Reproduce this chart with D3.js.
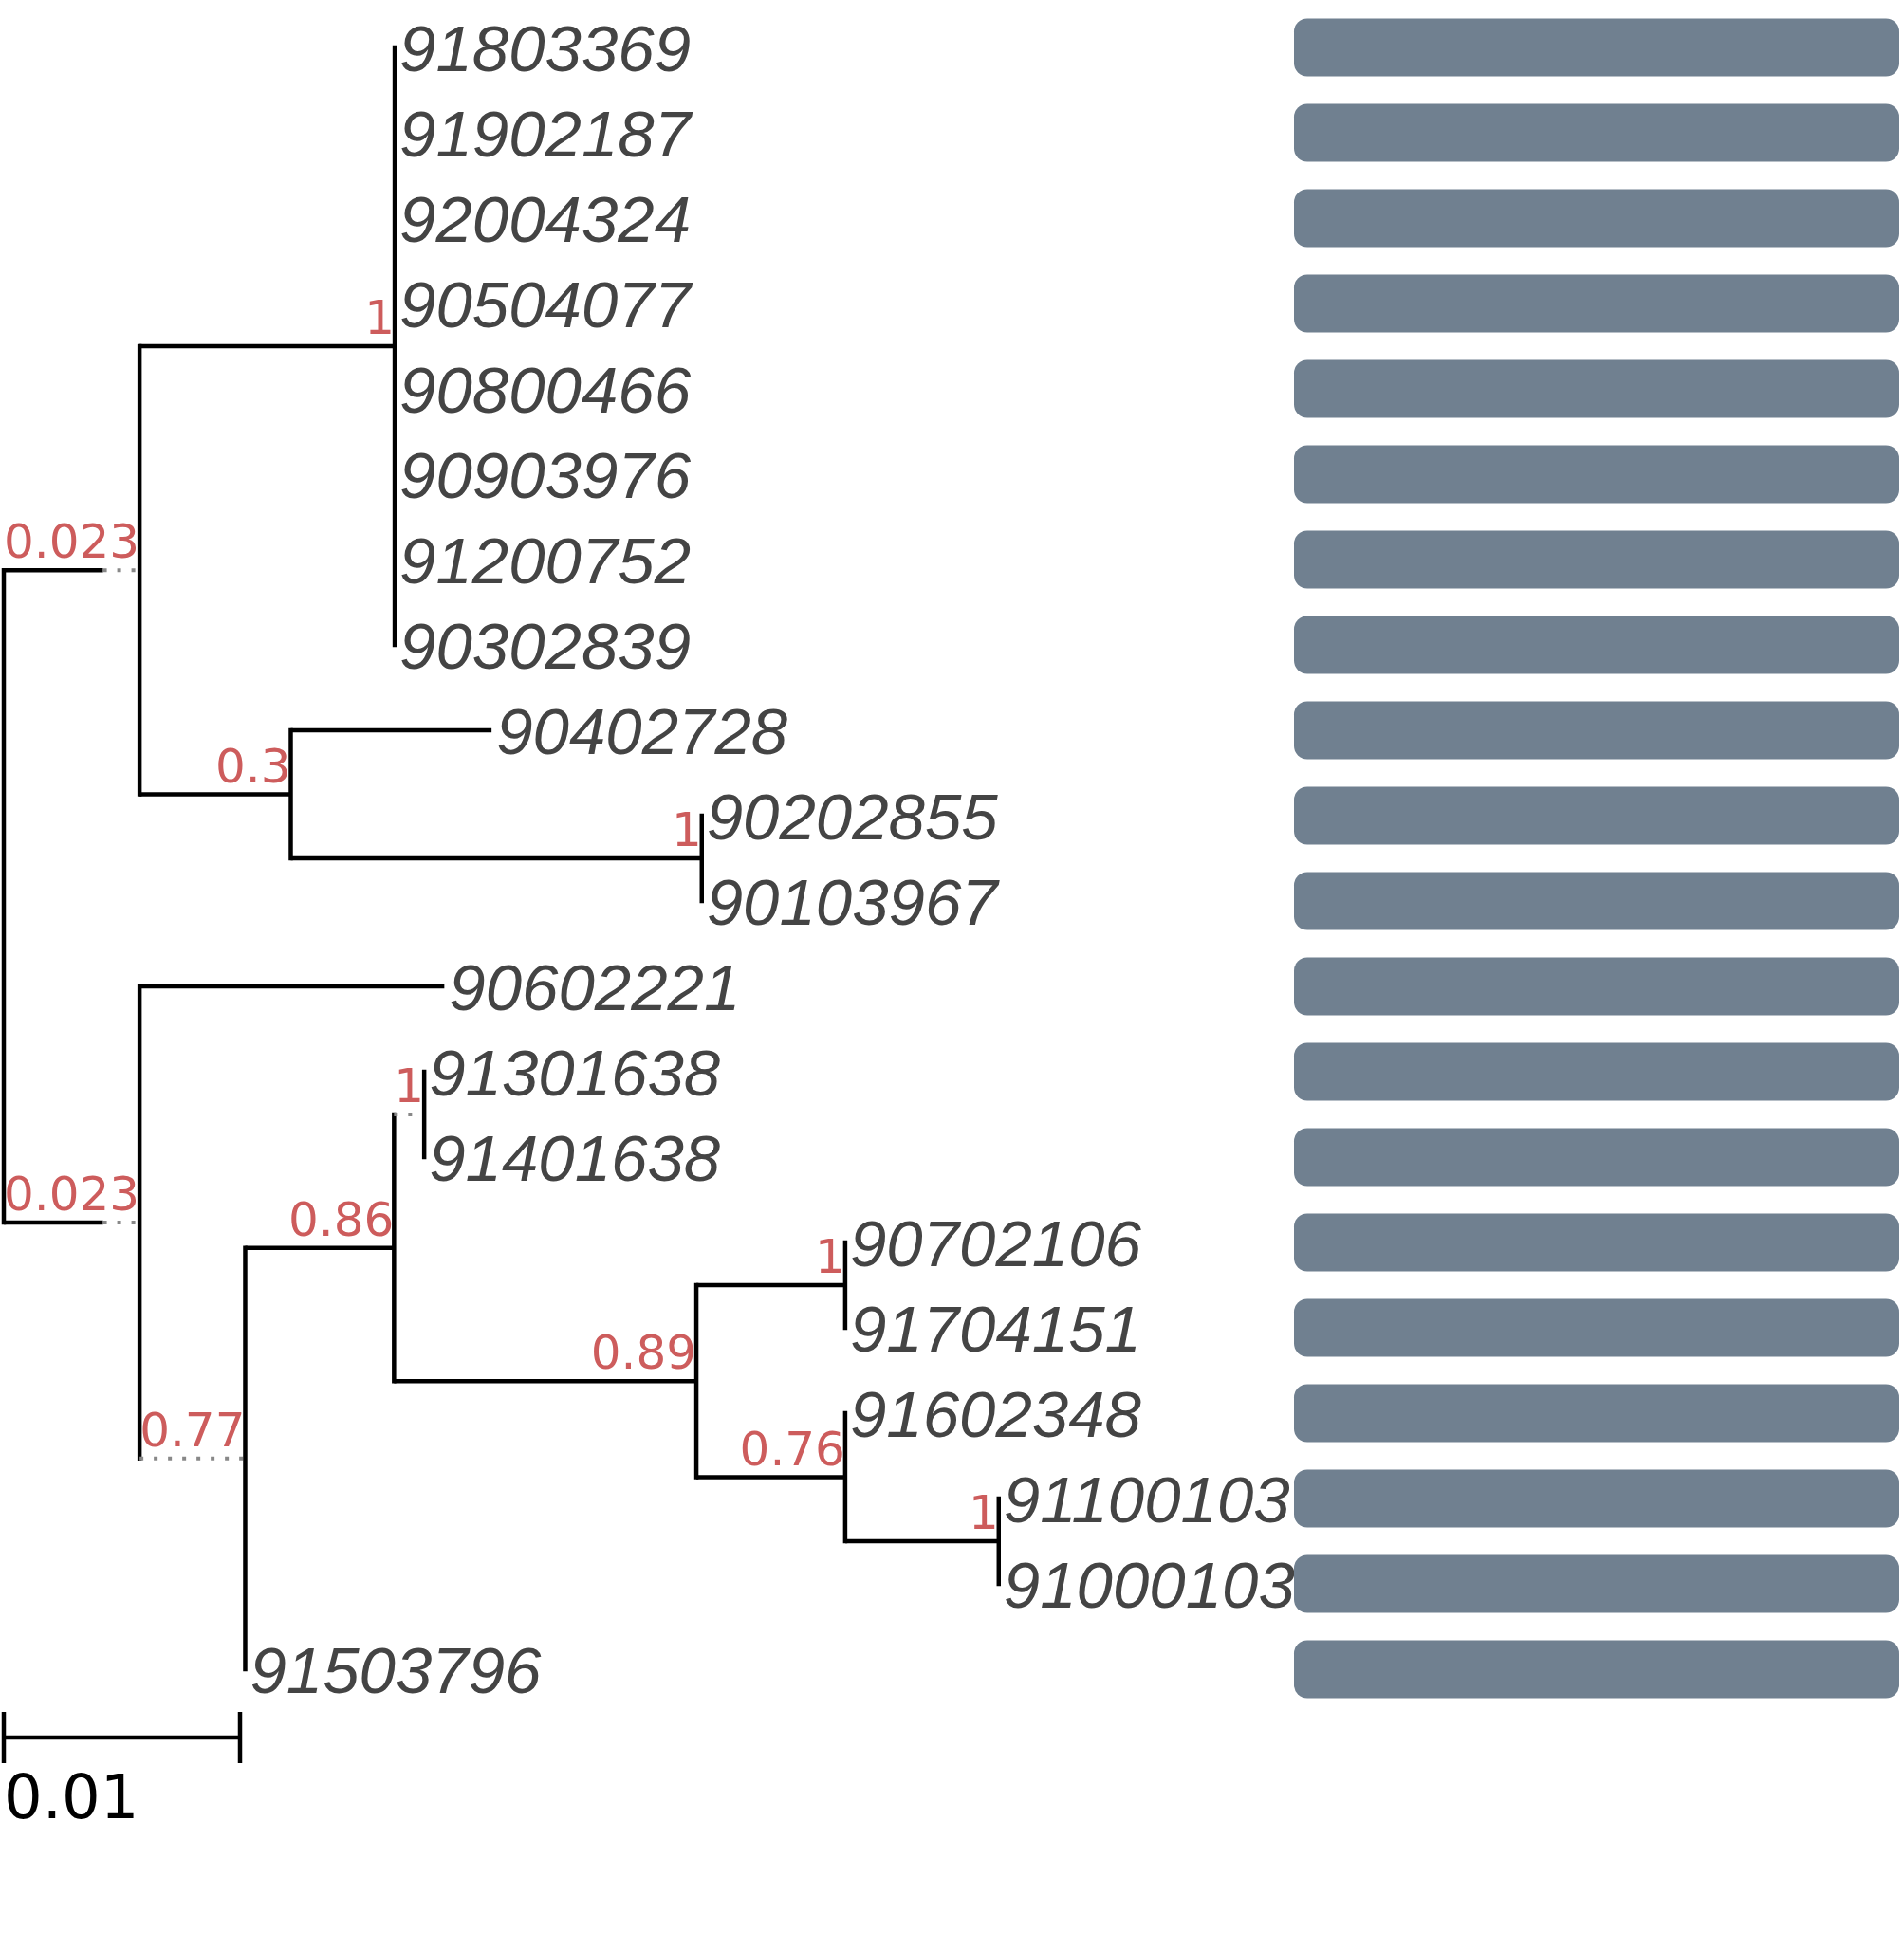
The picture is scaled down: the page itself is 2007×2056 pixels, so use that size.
<!DOCTYPE html>
<html>
<head>
<meta charset="utf-8">
<script src="https://cdn.jsdelivr.net/npm/d3@7"></script>
<style>
  body { margin: 0; background: #fff; }
  svg { display: block; }
</style>
</head>
<body>
<svg id="chart"></svg>
<script>
// tree as newick: internal labels are support values, lengths in substitutions/site
const newick =
  "(((91803369:0,91902187:0,92004324:0,90504077:0,90800466:0,90903976:0,91200752:0,90302839:0)1:0.0108," +
  "(90402728:0.0085,(90202855:0,90103967:0)1:0.0174)0.3:0.0064)0.023:0.0042," +
  "(90602221:0.0129,(((91301638:0,91401638:0)1:0," +
  "((90702106:0,91704151:0)1:0.0063,(91602348:0,(91100103:0,91000103:0)1:0.0065)0.76:0.0063)0.89:0.0128)0.86:0.0063," +
  "91503796:0)0.77:0)0.023:0.0042);";

// one rectangle per leaf, all full length
const barValues = [1, 1, 1, 1, 1, 1, 1, 1, 1, 1, 1, 1, 1, 1, 1, 1, 1, 1, 1, 1];

const scaleBarValue = 0.01;
const scaleBarLabel = "0.01";

const W = 2007, H = 2056;
const originX = 4;
const supportFont = 50;
const leafFont = 69;
const lineW = 4.5;

const svg = d3.select("#chart").attr("width", W).attr("height", H);
svg.append("rect").attr("width", W).attr("height", H).attr("fill", "#fff");

function parseNewick(s) {
  let i = 0;
  function node() {
    const n = {children: []};
    if (s[i] === "(") {
      i++;
      do { n.children.push(node()); } while (s[i++] === ",");
    }
    let label = "";
    while (i < s.length && !",():;".includes(s[i])) label += s[i++];
    n.length = 0;
    if (s[i] === ":") {
      i++;
      let num = "";
      while (i < s.length && !",();".includes(s[i])) num += s[i++];
      n.length = +num;
    }
    if (n.children.length) n.support = label; else n.name = label;
    return n;
  }
  return node();
}

const root = d3.hierarchy(parseNewick(newick), d => d.children.length ? d.children : null);
const leaves = root.leaves();

const x = d3.scaleLinear().domain([0, scaleBarValue]).range([0, 249]);
const y = d3.scaleLinear().domain([0, leaves.length - 1]).range([50, 1760]);
const barX = d3.scaleLinear().domain([0, 1]).range([1364, 2002]);

const gLines = svg.append("g");
const gText = svg.append("g");

// support labels first, so their width can stretch short branches
root.descendants().forEach(d => {
  if (d.children && d.parent) {
    d.label = gText.append("text")
      .attr("font-family", "DejaVu Sans")
      .attr("font-size", supportFont)
      .attr("fill", "#cd5c5c")
      .attr("text-anchor", "end")
      .text(d.data.support);
    d.labelWidth = d.label.node().getComputedTextLength();
  } else {
    d.labelWidth = 0;
  }
});

leaves.forEach((d, i) => { d.py = y(i); });
root.eachAfter(d => {
  if (d.children) d.py = (d.children[0].py + d.children[d.children.length - 1].py) / 2;
});
root.eachBefore(d => {
  if (!d.parent) { d.px = originX; d.solid = 0; return; }
  d.solid = x(d.data.length);
  d.px = d.parent.px + Math.max(d.solid, d.labelWidth);
});

root.descendants().forEach(d => {
  if (d.parent) {
    const x0 = d.parent.px, x1 = x0 + d.solid;
    if (d.solid > 0) {
      gLines.append("line")
        .attr("x1", x0).attr("x2", x1).attr("y1", d.py).attr("y2", d.py)
        .attr("stroke", "#000").attr("stroke-width", lineW);
    }
    if (d.px - x1 > 0.5) {
      gLines.append("line")
        .attr("x1", x1).attr("x2", d.px).attr("y1", d.py).attr("y2", d.py)
        .attr("stroke", "#888").attr("stroke-width", 4)
        .attr("stroke-dasharray", "4 11");
    }
  }
  if (d.children) {
    gLines.append("line")
      .attr("x1", d.px).attr("x2", d.px)
      .attr("y1", d.children[0].py).attr("y2", d.children[d.children.length - 1].py)
      .attr("stroke", "#000").attr("stroke-width", lineW)
      .attr("stroke-linecap", "square");
  }
  if (d.label) {
    d.label.attr("x", d.px).attr("y", d.py - 13);
  }
});

gText.selectAll("text.leaf")
  .data(leaves)
  .join("text")
  .attr("class", "leaf")
  .attr("x", d => d.px + 5)
  .attr("y", d => d.py + 25)
  .attr("font-family", "Liberation Sans, Arial, sans-serif")
  .attr("font-style", "italic")
  .attr("font-size", leafFont)
  .attr("fill", "#444")
  .text(d => d.data.name);

svg.append("g").selectAll("rect")
  .data(barValues)
  .join("rect")
  .attr("x", barX(0))
  .attr("y", (d, i) => y(i) - 30.5)
  .attr("width", d => barX(d) - barX(0))
  .attr("height", 61)
  .attr("rx", 14)
  .attr("fill", "#708090");

// scale bar
const sb = svg.append("g").attr("stroke", "#000").attr("stroke-width", lineW);
const sbY = 1832;
sb.append("line").attr("x1", originX).attr("x2", originX + x(scaleBarValue)).attr("y1", sbY).attr("y2", sbY);
[originX, originX + x(scaleBarValue)].forEach(v => {
  sb.append("line").attr("x1", v).attr("x2", v).attr("y1", sbY - 27).attr("y2", sbY + 27);
});
svg.append("text")
  .attr("x", originX)
  .attr("y", 1917)
  .attr("font-family", "DejaVu Sans")
  .attr("font-size", 64)
  .attr("fill", "#000")
  .text(scaleBarLabel);
</script>
</body>
</html>
